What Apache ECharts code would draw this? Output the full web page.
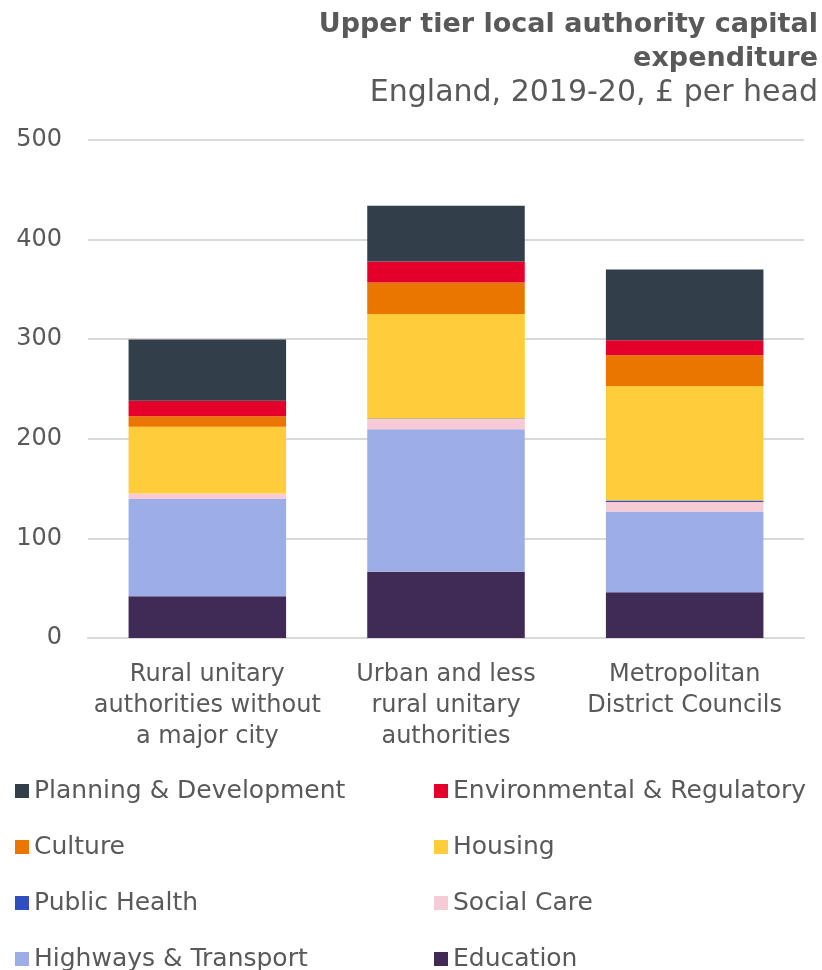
<!DOCTYPE html>
<html>
<head>
<meta charset="utf-8">
<script src="https://cdn.jsdelivr.net/npm/echarts@6/dist/echarts.min.js"></script>
<style>
  html, body { margin: 0; padding: 0; background: #fff; }
  #chart { width: 822px; height: 970px; }
</style>
</head>
<body>
<div id="chart"></div>
<script>
var categories = ['Rural unitary\nauthorities without\na major city', 'Urban and less\nrural unitary\nauthorities', 'Metropolitan\nDistrict Councils'];
var yTicks = [0, 100, 200, 300, 400, 500];

var education = [42, 66.5, 46];
var highways = [97.5, 143, 81];
var socialCare = [5.5, 10.5, 9.5];
var publicHealth = [0.2, 0.4, 1.5];
var housing = [67, 105, 115];
var culture = [10.5, 31.5, 31];
var environmental = [15.5, 21, 15];
var planning = [61.5, 56, 71];

var FONT = 'DejaVu Sans';
var GREY = '#595959';

function barSeries(name, data, color) {
    return {
        name: name,
        type: 'bar',
        stack: 'total',
        data: data,
        barWidth: '66%',
        itemStyle: { color: color }
    };
}

function legendCol(left, names) {
    return {
        orient: 'vertical',
        left: left,
        top: 771,
        height: 260,
        itemWidth: 14,
        itemHeight: 14,
        itemGap: 26,
        icon: 'rect',
        textStyle: { fontFamily: FONT, fontSize: 25, color: GREY, lineHeight: 30 },
        data: names
    };
}

// right-aligned heading line
function headLine(text, top, font) {
    return {
        type: 'text',
        right: 4,
        top: top,
        style: { text: text, fill: GREY, font: font }
    };
}

var chart = echarts.init(document.getElementById('chart'));
var option = {
    animation: false,
    textStyle: { fontFamily: FONT, color: GREY },
    graphic: [
        headLine('Upper tier local authority capital', 11, 'bold 27px "DejaVu Sans"'),
        headLine('expenditure', 45, 'bold 27px "DejaVu Sans"'),
        headLine('England, 2019-20, £ per head', 78, '30px "DejaVu Sans"')
    ],
    grid: {
        left: 88,
        right: 18,
        top: 140,
        bottom: 332
    },
    legend: [
        legendCol(10, ['Planning & Development', 'Culture', 'Public Health', 'Highways & Transport']),
        legendCol(429, ['Environmental & Regulatory', 'Housing', 'Social Care', 'Education'])
    ],
    xAxis: {
        type: 'category',
        data: categories,
        axisLine: { lineStyle: { color: '#d9d9d9', width: 2 } },
        axisTick: { show: false },
        axisLabel: {
            fontFamily: FONT,
            fontSize: 24,
            color: GREY,
            lineHeight: 31,
            margin: 21,
            interval: 0
        }
    },
    yAxis: {
        type: 'value',
        min: yTicks[0],
        max: yTicks[yTicks.length - 1],
        interval: 100,
        axisLine: { show: false },
        axisTick: { show: false },
        splitLine: { lineStyle: { color: '#d9d9d9', width: 2 } },
        axisLabel: {
            fontFamily: FONT,
            fontSize: 24,
            color: GREY,
            margin: 26
        }
    },
    series: [
        barSeries('Education', education, '#3f2b55'),
        barSeries('Highways & Transport', highways, '#9dade5'),
        barSeries('Social Care', socialCare, '#f6cbd5'),
        barSeries('Public Health', publicHealth, '#2e4fbd'),
        barSeries('Housing', housing, '#ffcd3c'),
        barSeries('Culture', culture, '#ea7600'),
        barSeries('Environmental & Regulatory', environmental, '#e4002b'),
        barSeries('Planning & Development', planning, '#323f4a')
    ]
};
chart.setOption(option);
</script>
</body>
</html>
